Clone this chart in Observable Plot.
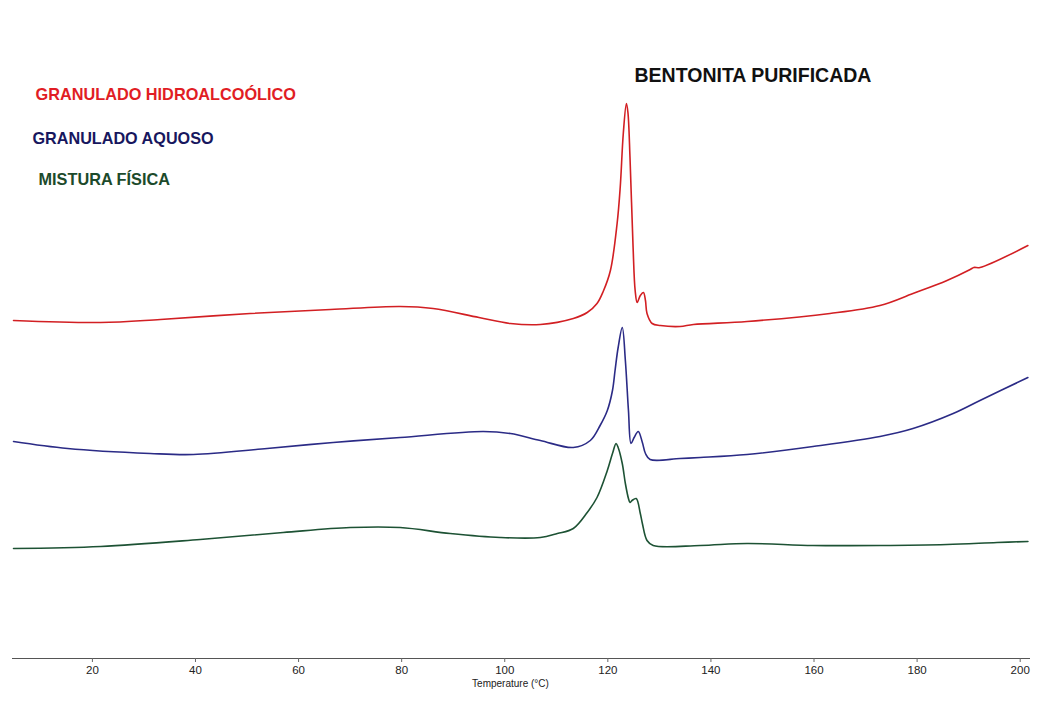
<!DOCTYPE html>
<html>
<head>
<meta charset="utf-8">
<script src="https://cdn.jsdelivr.net/npm/d3@7"></script>
<script src="https://cdn.jsdelivr.net/npm/@observablehq/plot@0.6"></script>
<style>
  html, body { margin: 0; padding: 0; background: #fff; }
  #chart svg { display: block; }
</style>
</head>
<body>
<div id="chart"></div>
<script>
// DSC thermograms of purified bentonite: temperature (°C) vs. heat flow (arbitrary units)

const seriesNames = ["GRANULADO HIDROALCOÓLICO", "GRANULADO AQUOSO", "MISTURA FÍSICA"];
const seriesColors = ["#d21f23", "#2b2b86", "#1d5234"];

// Granulado hidroalcoólico
const tempHidro = [4.7, 21.6, 33.2, 50.6, 66.2, 79.7, 86.1, 95.0, 101.1, 106.9, 113.3, 116.0, 117.9, 119.1, 120.5, 121.8, 122.4, 123.0, 123.6, 123.9, 124.3, 124.9, 125.3, 125.7, 126.3, 126.9, 127.3, 127.6, 128.6, 130.2, 134.0, 136.6, 147.0, 163.1, 172.8, 179.2, 185.8, 190.3, 191.0, 192.2, 201.5];
const heatHidro = [33.8, 33.6, 33.9, 34.5, 34.9, 35.2, 35.0, 34.1, 33.5, 33.4, 34.0, 34.6, 35.5, 36.7, 38.8, 43.5, 47.1, 52.5, 55.5, 54.6, 50.1, 41.1, 36.8, 35.6, 36.3, 36.6, 35.8, 34.5, 33.5, 33.3, 33.2, 33.4, 33.7, 34.5, 35.3, 36.5, 37.8, 38.9, 39.1, 39.1, 41.3];

// Granulado aquoso
const tempAquoso = [4.7, 15.2, 31.2, 39.6, 53.9, 66.7, 79.7, 95.8, 101.1, 106.9, 113.3, 116.6, 118.5, 119.9, 120.9, 121.4, 122.0, 122.8, 123.4, 124.0, 124.5, 125.1, 125.9, 126.7, 127.3, 128.2, 134.0, 137.9, 147.0, 159.8, 172.8, 179.2, 187.0, 192.2, 201.5];
const heatAquoso = [21.7, 21.0, 20.5, 20.4, 21.0, 21.6, 22.1, 22.7, 22.5, 21.8, 21.1, 21.8, 23.3, 24.8, 26.8, 28.8, 31.1, 33.1, 29.8, 24.8, 21.5, 22.1, 22.7, 21.6, 20.5, 19.9, 20.0, 20.1, 20.4, 21.2, 22.2, 23.0, 24.5, 25.8, 28.1];

// Mistura física
const tempMistura = [4.7, 21.6, 40.9, 57.0, 70.0, 79.7, 89.4, 99.1, 106.9, 110.2, 113.3, 116.0, 117.9, 119.9, 120.9, 121.6, 122.0, 122.8, 123.4, 124.0, 124.3, 124.7, 125.5, 126.3, 126.7, 127.6, 128.8, 137.9, 147.0, 159.8, 172.8, 185.8, 195.5, 201.5];
const heatMistura = [11.0, 11.2, 11.9, 12.6, 13.1, 13.1, 12.5, 12.1, 12.1, 12.5, 13.0, 14.6, 16.1, 18.8, 20.5, 21.5, 21.1, 19.5, 17.5, 16.0, 15.6, 15.8, 16.0, 14.5, 13.5, 11.8, 11.3, 11.3, 11.5, 11.3, 11.3, 11.4, 11.6, 11.7];

const xTicks = [20, 40, 60, 80, 100, 120, 140, 160, 180, 200];

const temps = [tempHidro, tempAquoso, tempMistura];
const heats = [heatHidro, heatAquoso, heatMistura];

const rows = seriesNames.flatMap((name, i) =>
  temps[i].map((t, j) => ({series: name, t, v: heats[i][j]}))
);

const font = "'Liberation Sans', Arial, sans-serif";

const label = (text, color, size, dx, dy) =>
  Plot.text([text], {
    frameAnchor: "top-left",
    textAnchor: "start",
    dx, dy,
    fill: color,
    fontSize: size,
    fontWeight: "bold",
    fontFamily: font
  });

const chart = Plot.plot({
  width: 1053,
  height: 704,
  marginLeft: 12,
  marginRight: 23,
  marginTop: 58,
  marginBottom: 46,
  style: {background: "#fff", fontFamily: font},
  x: {domain: [4.5, 202], ticks: xTicks},
  y: {domain: [0, 60], axis: null},
  color: {domain: seriesNames, range: seriesColors},
  marks: [
    Plot.ruleY([0], {stroke: "#555", strokeWidth: 1.2}),
    Plot.axisX({
      ticks: xTicks,
      tickSize: 4,
      tickPadding: 3,
      fontSize: 11.5,
      color: "#222",
      stroke: "#666",
      label: null
    }),
    Plot.text(["Temperature (°C)"], {
      frameAnchor: "bottom",
      dx: -11,
      dy: 28,
      fontSize: 10,
      fill: "#222",
      fontFamily: font
    }),
    Plot.line(rows, {
      x: "t",
      y: "v",
      z: "series",
      stroke: "series",
      strokeWidth: 1.6,
      curve: "catmull-rom"
    }),
    label("GRANULADO HIDROALCOÓLICO", "#e11d24", 16.3, 23, 30),
    label("GRANULADO AQUOSO", "#17175e", 16.2, 20, 74),
    label("MISTURA FÍSICA", "#1c4a2b", 16.3, 26, 115),
    label("BENTONITA PURIFICADA", "#111", 19.5, 622, 10)
  ]
});

document.getElementById("chart").appendChild(chart);
</script>
</body>
</html>
